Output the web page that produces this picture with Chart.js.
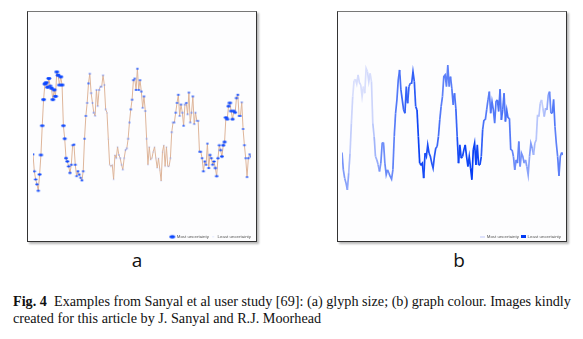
<!DOCTYPE html>
<html>
<head>
<meta charset="utf-8">
<script src="https://cdn.jsdelivr.net/npm/chart.js@4.4.1/dist/chart.umd.min.js"></script>
<style>
  html, body { margin: 0; padding: 0; background: #fff; }
  body { width: 583px; height: 339px; position: relative; overflow: hidden; }
  .panel {
    position: absolute; top: 11px; width: 228px; height: 229px;
    border: 1px solid #333; border-top-color: #777;
    box-shadow: 2px 2px 2px #b8b8b8; background: #fdfdfe;
  }
  .panel canvas { display: block; }
  .tag { position: absolute; top: 247px; font: 19px "Open Sans", sans-serif; color: #111; width: 40px; text-align: center; }
  .caption {
    position: absolute; left: 13px; top: 293px; width: 570px;
    font: 14.2px "Liberation Serif", "Times New Roman", serif; line-height: 17px; color: #111;
    white-space: nowrap;
  }
</style>
</head>
<body>
<div class="panel" style="left:27px"><canvas id="chart-a" width="228" height="229"></canvas></div>
<div class="panel" style="left:337px"><canvas id="chart-b" width="228" height="229"></canvas></div>
<div class="tag" style="left:117px">a</div>
<div class="tag" style="left:439px">b</div>
<div class="caption"><b>Fig. 4</b>&nbsp; Examples from Sanyal et al user study [69]: (a) glyph size; (b) graph colour. Images kindly<br>created for this article by J. Sanyal and R.J. Moorhead</div>

<script>
// ── DATA ──────────────────────────────────────────────────────────
// one reading per time step
const readings = [
  34.4, 24, 19, 16, 12, 22, 34, 52, 68, 77.6, 78.4, 75.6, 81, 76.4,
  75, 68, 74, 70, 85, 83, 77, 82, 77, 52,
  44, 32, 30, 27, 23, 28, 40, 40.4, 28, 21,
  24, 22, 20, 18.4, 24, 44, 58, 66, 78, 84,
  72, 66, 60, 58, 74, 64, 74, 76, 76, 83,
  77, 62, 60, 44, 28, 27, 28, 19, 34, 32,
  39, 34, 32, 28, 25, 32, 37, 38, 44, 54,
  62, 68, 80, 81, 74, 87, 74, 80, 73, 63,
  70, 61, 44, 28, 39, 31, 32, 36, 39, 32,
  26, 32, 25, 18, 36, 40, 27, 39, 27, 27,
  32, 48, 54, 54, 60, 66, 71, 58, 65, 60,
  52, 65, 66, 59, 72.4, 54, 60, 70, 53, 60,
  55, 55, 36, 36, 32, 24, 30, 28, 41, 26,
  34, 32, 28, 30, 26, 21, 32, 40, 37, 33,
  40, 42, 57, 56, 64, 66, 61, 56, 61, 60,
  69, 71, 58, 58, 66.4, 50, 40, 32, 20.4, 32,
  34.4, 33
];

// uncertainty of each reading: 0 = least, 1 = most
const uncertainty = [
  0.5, 0.55, 0.6, 0.6, 0.6, 0.7,
  0.85, 0.9, 0.95, 1, 1, 0.95, 1, 0.9, 1, 0.95, 1, 1, 0.95, 1, 0.9, 1, 0.95, 0.9,
  0.75, 0.7, 0.7, 0.65, 0.6,
  0.5, 0.45, 0.5, 0.5, 0.45, 0.5, 0.5, 0.45, 0.5, 0.45,
  0.4, 0.4, 0.35, 0.4, 0.35,
  0.3, 0.25, 0.3, 0.2, 0.25, 0.2, 0.3, 0.25, 0.2, 0.25, 0.2, 0.2,
  0.1, 0.05, 0.05, 0.1, 0.05, 0.1, 0.1, 0.15, 0.1, 0.15, 0.2, 0.15, 0.2, 0.15, 0.2, 0.25,
  0.3, 0.35, 0.4, 0.4, 0.45, 0.4, 0.45, 0.4, 0.45, 0.4, 0.4, 0.35, 0.4, 0.3, 0.2,
  0.05, 0.1, 0.05, 0.05, 0.1, 0.05, 0.05, 0.05, 0.1, 0.05, 0, 0.05, 0.05, 0.05, 0.1, 0.05, 0.05, 0.15,
  0.3, 0.35, 0.35, 0.4, 0.4, 0.45, 0.35, 0.4, 0.35, 0.4, 0.35, 0.4, 0.3, 0.4, 0.35, 0.3, 0.4, 0.35, 0.3, 0.35, 0.35,
  0.4, 0.45, 0.45, 0.5, 0.5, 0.45, 0.4, 0.5, 0.55, 0.5, 0.55, 0.6, 0.6, 0.65, 0.6, 0.55,
  0.6, 0.7, 0.75, 0.8, 0.85, 0.85, 0.8, 0.9, 0.85, 0.8, 0.75, 0.7, 0.6, 0.5,
  0.45, 0.4, 0.35, 0.4, 0.45, 0.4, 0.4, 0.45, 0.4, 0.4
];

const legendLabels = ['Most uncertainty', 'Least uncertainty'];

const points = readings.map((v, i) => ({ x: i, y: v }));

// ── HELPERS ───────────────────────────────────────────────────────
function mix(a, b, t) {
  return a.map((c, k) => Math.round(c + (b[k] - c) * t));
}

const DARK  = [0, 58, 245];
const LIGHT = [222, 226, 252];

function lineColour(u) {
  const c = mix(DARK, LIGHT, u);
  return `rgb(${c[0]},${c[1]},${c[2]})`;
}

// small blue ellipse, bigger and stronger when the reading is less certain
function glyph(u) {
  const w = 1.3 + 3.8 * u, h = 1 + 1.9 * u;
  const c = document.createElement('canvas');
  c.width = Math.ceil(w) + 2; c.height = Math.ceil(h) + 2;
  const g = c.getContext('2d');
  const col = mix([130, 160, 255], [10, 70, 255], Math.min(1, u * 1.6));
  g.fillStyle = `rgba(${col[0]},${col[1]},${col[2]},${0.45 + 0.55 * Math.min(1, u * 2)})`;
  g.beginPath();
  g.ellipse(c.width / 2, c.height / 2, w / 2, h / 2, 0, 0, Math.PI * 2);
  g.fill();
  return c;
}

function swatch(colour, w, h) {
  const c = document.createElement('canvas');
  c.width = w; c.height = h;
  const g = c.getContext('2d');
  g.fillStyle = colour;
  g.fillRect(0, 0, w, h);
  return c;
}

function baseOptions(items) {
  return {
    responsive: false,
    animation: false,
    devicePixelRatio: 1,
    // negative bottom padding pulls the legend down close to the frame
    layout: { padding: { left: 4, right: 3, top: 0, bottom: -8 } },
    scales: {
      x: { type: 'linear', min: 0, max: readings.length - 1, display: false },
      y: { min: -13.7, max: 118.8, display: false },
    },
    plugins: {
      tooltip: { enabled: false },
      legend: {
        position: 'bottom',
        align: 'end',
        labels: {
          usePointStyle: true,
          boxHeight: 4,
          padding: 2,
          color: '#555',
          font: { size: 4.4, family: 'Liberation Sans, sans-serif' },
          generateLabels: () => items,
        },
      },
    },
  };
}

// ── PANEL A: glyph size ───────────────────────────────────────────
new Chart(document.getElementById('chart-a'), {
  type: 'line',
  data: {
    datasets: [{
      data: points,
      borderColor: '#deb59a',
      borderWidth: 1,
      tension: 0,
      pointStyle: uncertainty.map(glyph),
      pointRadius: 2,
    }],
  },
  options: baseOptions([
    { text: legendLabels[0], pointStyle: glyph(1.2), fillStyle: '#0a46ff', strokeStyle: '#0a46ff', lineWidth: 0, hidden: false, fontColor: '#555' },
    { text: legendLabels[1], pointStyle: glyph(0), fillStyle: '#7f98ff', strokeStyle: '#7f98ff', lineWidth: 0, hidden: false, fontColor: '#555' },
  ]),
});

// ── PANEL B: graph colour ─────────────────────────────────────────
new Chart(document.getElementById('chart-b'), {
  type: 'line',
  data: {
    datasets: [{
      data: points,
      borderColor: lineColour(0.5),
      borderWidth: 1.7,
      tension: 0,
      pointRadius: 0,
      segment: {
        borderColor: ctx => lineColour((uncertainty[ctx.p0DataIndex] + uncertainty[ctx.p1DataIndex]) / 2),
      },
    }],
  },
  options: baseOptions([
    { text: legendLabels[0], pointStyle: swatch(lineColour(1), 5, 2), fillStyle: lineColour(1), strokeStyle: lineColour(1), lineWidth: 0, hidden: false, fontColor: '#555' },
    { text: legendLabels[1], pointStyle: swatch(lineColour(0), 5, 3), fillStyle: lineColour(0), strokeStyle: lineColour(0), lineWidth: 0, hidden: false, fontColor: '#555' },
  ]),
});
</script>
</body>
</html>
